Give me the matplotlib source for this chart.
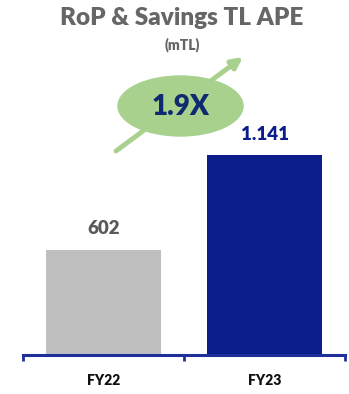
import matplotlib
matplotlib.use("Agg")
import matplotlib.pyplot as plt
from matplotlib.patches import Ellipse

categories = ["FY22", "FY23"]
values = [602, 1141]
value_labels = ["602", "1.141"]
bar_colors = ["#bfbfbf", "#0c1d8c"]
label_colors = ["#595959", "#0c1d8c"]
title = "RoP & Savings TL APE"
subtitle = "(mTL)"
growth = "1.9X"

plt.rcParams['font.family'] = ['Lato', 'DejaVu Sans']
W, H = 349, 394
fig = plt.figure(figsize=(W/100, H/100), dpi=100)
ax = fig.add_axes([23/W, 39/H, 322/W, 355/H])
x = range(len(categories))
ax.bar(x, values, width=0.72, color=bar_colors, zorder=2)
ax.set_xlim(-0.5, 1.5)
ax.set_ylim(0, 355/0.1752)
for s in ["top", "right", "left"]:
    ax.spines[s].set_visible(False)
ax.spines["bottom"].set_color("#1f2f9a")
ax.spines["bottom"].set_linewidth(2.2)
ax.set_yticks([])
ax.set_xticks([-0.5, 0.5, 1.5], minor=False)
ax.set_xticklabels([])
ax.tick_params(axis="x", direction="out", length=4, width=2, color="#1f2f9a")
for i, c in enumerate(categories):
    ax.text(i, -0.073, c, transform=ax.get_xaxis_transform(), ha="center", va="center",
            fontsize=10, fontweight="heavy", color="#111111")
for i, (v, lab) in enumerate(zip(values, value_labels)):
    ax.annotate(lab, (i, v), xytext=(0, 15), textcoords="offset points", ha="center", va="center",
                fontsize=13.5, fontweight="heavy", color=label_colors[i])

fig.text(182/W, 1 - 18/H, title, ha="center", va="center", fontsize=17.5, fontweight="heavy", color="#666666")
fig.text(182/W, 1 - 45/H, subtitle, ha="center", va="center", fontsize=10, fontweight="heavy", color="#666666")

ax2 = fig.add_axes([0, 0, 1, 1], facecolor="none")
ax2.set_xlim(0, W); ax2.set_ylim(H, 0); ax2.axis("off")
ax2.annotate("", xy=(243, 57), xytext=(116, 151),
             arrowprops=dict(arrowstyle="-|>", lw=3.5, color="#a9d18e", mutation_scale=16, shrinkA=0, shrinkB=0))
ax2.add_patch(Ellipse((180.5, 106), 125, 60, color="#a9d18e", zorder=3))
ax2.text(181, 107, growth, ha="center", va="center", fontsize=20, fontweight="heavy", color="#0f2a6e", zorder=4)

fig.savefig("out.png", dpi=100)
